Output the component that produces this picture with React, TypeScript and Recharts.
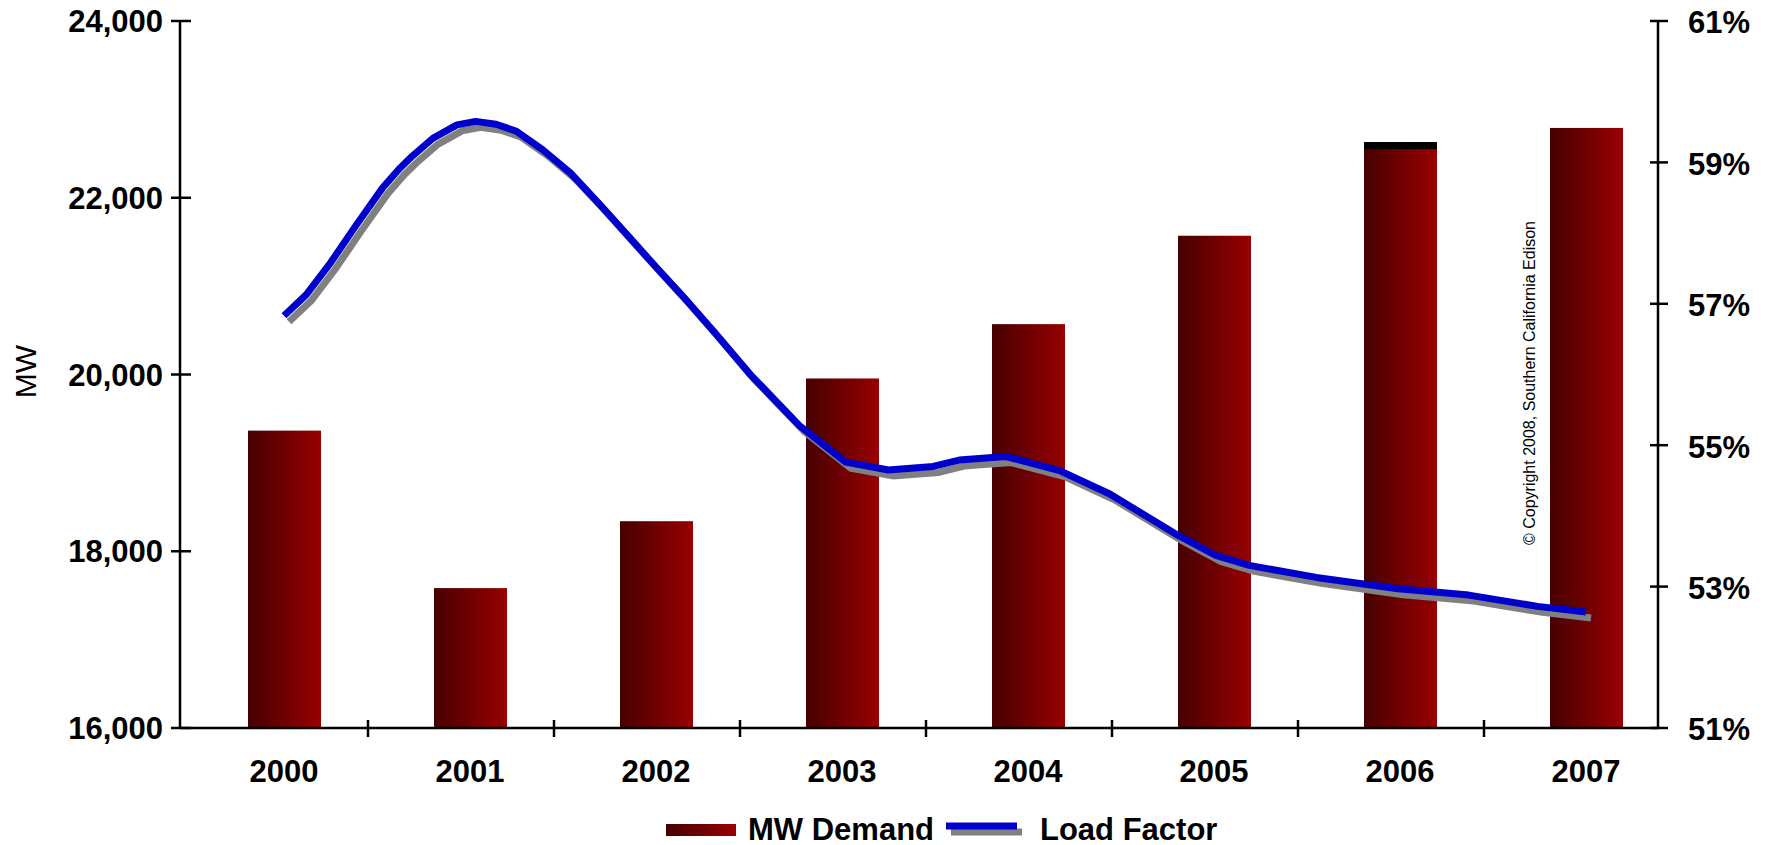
import React from 'react';
import { ComposedChart, Bar, Line, XAxis, YAxis, Legend } from 'recharts';

const years = ['2000', '2001', '2002', '2003', '2004', '2005', '2006', '2007'];
const mwDemand = [19365, 17583, 18340, 19955, 20570, 21570, 22630, 22790];
const cappedYears = ['2006'];

const lfTime = [
  2000.0, 2000.12, 2000.25, 2000.39, 2000.53, 2000.62, 2000.69, 2000.8, 2000.93, 2001.03,
  2001.14, 2001.25, 2001.39, 2001.54, 2001.7, 2001.85, 2002.0, 2002.14, 2002.32, 2002.5,
  2002.77, 2003.02, 2003.25, 2003.49, 2003.63, 2003.88, 2004.17, 2004.44, 2004.79, 2005.01,
  2005.19, 2005.55, 2005.99, 2006.37, 2006.74, 2007.0,
];
const lfPct = [
  56.83, 57.13, 57.58, 58.12, 58.64, 58.91, 59.09, 59.34, 59.53, 59.58,
  59.54, 59.44, 59.18, 58.85, 58.4, 57.96, 57.52, 57.12, 56.58, 56.02,
  55.28, 54.76, 54.65, 54.7, 54.79, 54.84, 54.64, 54.31, 53.75, 53.44,
  53.3, 53.13, 52.97, 52.88, 52.72, 52.64,
];

const mwTicks = [16000, 18000, 20000, 22000, 24000];
const pctTicks = [51, 53, 55, 57, 59, 61];

const barData = years.map((year, i) => ({ year, mw: mwDemand[i] }));
const lineData = lfTime.map((t, i) => ({ t, pct: lfPct[i] }));

const FONT = '"Liberation Sans", Arial, sans-serif';
const W = 1771;
const H = 845;
const X_PAD = { left: 11, right: -21 };

const LeftTick = ({ x, y, payload }: any) => {
  const ax = x + 17;
  return (
    <g>
      <line x1={ax - 9} x2={ax + 11} y1={y} y2={y} stroke="#000" strokeWidth={2.5} />
      <text x={x} y={y} dy="0.36em" textAnchor="end" fontFamily={FONT} fontWeight="bold" fontSize={31} fill="#000">
        {payload.value.toLocaleString('en-US')}
      </text>
    </g>
  );
};

const RightTick = ({ x, y, payload }: any) => {
  const ax = x - 30;
  return (
    <g>
      <line x1={ax - 8} x2={ax + 10} y1={y} y2={y} stroke="#000" strokeWidth={2.5} />
      <text x={x} y={y} dy="0.4em" textAnchor="start" fontFamily={FONT} fontWeight="bold" fontSize={31} fill="#000">
        {payload.value}%
      </text>
    </g>
  );
};

const YearTick = ({ x, y, payload, index }: any) => (
  <g>
    {index < years.length - 1 && (
      <line x1={x + 84} x2={x + 84} y1={y - 8} y2={y + 9} stroke="#000" strokeWidth={2.5} />
    )}
    <text x={x} y={y + 43} dy="0.36em" textAnchor="middle" fontFamily={FONT} fontWeight="bold" fontSize={31} fill="#000">
      {payload.value}
    </text>
  </g>
);

const DemandBar = (props: any) => {
  const { x, y, width, height, payload } = props;
  return (
    <g>
      <rect x={x} y={y} width={width} height={height} fill="url(#barGrad)" />
      {cappedYears.includes(payload.year) && <rect x={x} y={y} width={width} height={7} fill="#000" />}
    </g>
  );
};

const LegendBox = () => (
  <div style={{ display: 'flex', alignItems: 'center', marginLeft: 666, fontFamily: FONT, fontWeight: 'bold', fontSize: 31 }}>
    <div style={{ width: 70, height: 12, background: 'linear-gradient(to right, #470000, #990000)' }} />
    <span style={{ marginLeft: 12 }}>MW Demand</span>
    <svg width={78} height={20} style={{ marginLeft: 12 }}>
      <line x1={5} x2={76} y1={12} y2={12} stroke="#808080" strokeWidth={7} />
      <line x1={0} x2={71} y1={6} y2={6} stroke="#0000cc" strokeWidth={7} />
    </svg>
    <span style={{ marginLeft: 16 }}>Load Factor</span>
  </div>
);

const App: React.FC = () => {
  return (
    <div style={{ position: 'relative', width: W, height: H, background: '#fff' }}>
      <style>{`body { margin: 0; } .lf-shadow { transform: translate(5px, 6px); }`}</style>
      <ComposedChart width={W} height={H} data={barData} margin={{ top: 21, right: 0, bottom: 57, left: 0 }}>
        <defs>
          <linearGradient id="barGrad" x1="0" y1="0" x2="1" y2="0">
            <stop offset="0" stopColor="#470000" />
            <stop offset="1" stopColor="#990000" />
          </linearGradient>
        </defs>
        <XAxis
          xAxisId="cat"
          dataKey="year"
          height={60}
          padding={X_PAD}
          axisLine={{ stroke: '#000', strokeWidth: 2.5 }}
          tickLine={false}
          tickSize={0}
          tickMargin={0}
          tick={<YearTick />}
          interval={0}
        />
        <XAxis xAxisId="t" type="number" dataKey="t" domain={[1999.5, 2007.5]} padding={X_PAD} hide allowDataOverflow />
        <YAxis
          yAxisId="left"
          width={180}
          domain={[16000, 24000]}
          ticks={mwTicks}
          axisLine={{ stroke: '#000', strokeWidth: 2.5 }}
          tickLine={false}
          tickSize={0}
          tickMargin={17}
          tick={<LeftTick />}
          label={({ viewBox }: any) => {
            const cy = viewBox.y + viewBox.height / 2 - 3;
            return (
              <text
                x={25}
                y={cy}
                transform={`rotate(-90, 25, ${cy})`}
                textAnchor="middle"
                dy="0.36em"
                fontFamily={FONT}
                fontSize={30}
                fill="#000"
              >
                MW
              </text>
            );
          }}
        />
        <YAxis
          yAxisId="right"
          orientation="right"
          width={113}
          domain={[51, 61]}
          ticks={pctTicks}
          axisLine={{ stroke: '#000', strokeWidth: 2.5 }}
          tickLine={false}
          tickSize={0}
          tickMargin={30}
          tick={<RightTick />}
        />
        <Bar xAxisId="cat" yAxisId="left" dataKey="mw" name="MW Demand" barSize={73} shape={<DemandBar />} isAnimationActive={false} />
        <Line
          className="lf-shadow"
          xAxisId="t"
          yAxisId="right"
          data={lineData}
          dataKey="pct"
          type="linear"
          stroke="#808080"
          strokeWidth={7}
          dot={false}
          legendType="none"
          isAnimationActive={false}
        />
        <Line
          xAxisId="t"
          yAxisId="right"
          data={lineData}
          dataKey="pct"
          name="Load Factor"
          type="linear"
          stroke="#0000cc"
          strokeWidth={7}
          strokeLinejoin="round"
          dot={false}
          isAnimationActive={false}
        />
        <Legend verticalAlign="middle" wrapperStyle={{ top: 812, left: 0, width: W }} content={() => <LegendBox />} />
      </ComposedChart>
      <div
        style={{
          position: 'absolute',
          left: 1530,
          top: 383,
          transform: 'translate(-50%, -50%) rotate(-90deg)',
          whiteSpace: 'nowrap',
          fontFamily: FONT,
          fontSize: 16,
          color: '#000',
        }}
      >
        © Copyright 2008, Southern California Edison
      </div>
    </div>
  );
};

export default App;
